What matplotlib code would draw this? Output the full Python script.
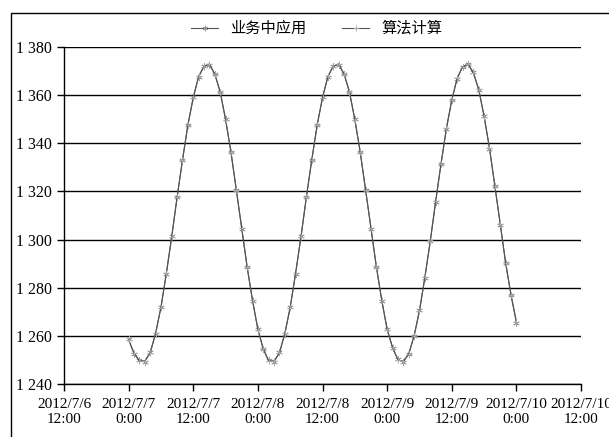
import matplotlib
matplotlib.use("Agg")
import matplotlib.pyplot as plt
import matplotlib.dates as mdates
from matplotlib.patches import Rectangle
import pandas as pd

plt.rcParams['font.family'] = ['Liberation Serif', 'Noto Sans CJK SC', 'DejaVu Sans']

# hourly water level, 2012-07-07 00:00 .. 2012-07-10 00:00
times = pd.date_range('2012-07-07 00:00', periods=73, freq='h')

applied = [1258.5, 1252.6, 1249.8, 1249.3, 1253.1, 1260.8, 1272.0, 1285.8, 1301.3, 1317.5,
           1333.2, 1347.4, 1359.2, 1367.6, 1372.2, 1372.7, 1368.9, 1361.2, 1350.0, 1336.2,
           1320.7, 1304.5, 1288.8, 1274.6, 1262.8, 1254.4, 1249.8, 1249.3, 1253.1, 1260.8,
           1272.0, 1285.8, 1301.3, 1317.5, 1333.2, 1347.4, 1359.2, 1367.6, 1372.2, 1372.7,
           1368.9, 1361.2, 1350.0, 1336.2, 1320.7, 1304.5, 1288.8, 1274.6, 1262.8, 1255.0,
           1250.2, 1249.2, 1252.6, 1259.8, 1270.6, 1284.1, 1299.4, 1315.6, 1331.6, 1346.0,
           1358.1, 1366.9, 1371.9, 1372.8, 1369.5, 1362.2, 1351.4, 1337.8, 1322.4, 1306.2,
           1290.4, 1276.8, 1265.5]

computed = [1258.2, 1252.9, 1249.5, 1249.6, 1252.8, 1261.1, 1271.7, 1286.1, 1301.0, 1317.8,
            1332.9, 1347.7, 1358.9, 1367.9, 1371.9, 1373.0, 1368.6, 1361.5, 1349.7, 1336.5,
            1320.4, 1304.8, 1288.5, 1274.9, 1262.5, 1254.7, 1249.5, 1249.6, 1252.8, 1261.1,
            1271.7, 1286.1, 1301.0, 1317.8, 1332.9, 1347.7, 1358.9, 1367.9, 1371.9, 1373.0,
            1368.6, 1361.5, 1349.7, 1336.5, 1320.4, 1304.8, 1288.5, 1274.9, 1262.5, 1255.3,
            1249.9, 1249.5, 1252.3, 1260.1, 1270.3, 1284.4, 1299.1, 1315.9, 1331.3, 1346.3,
            1357.8, 1367.2, 1371.6, 1373.1, 1369.2, 1362.5, 1351.1, 1338.1, 1322.1, 1306.5,
            1290.1, 1277.1, 1265.8]

labels = ['业务中应用', '算法计算']

fig = plt.figure(figsize=(6.09, 4.37), dpi=100)
ax = fig.add_axes([0.1051, 0.1213, 0.849, 0.7711])

# outer frame around the whole figure
fig.patches.append(Rectangle((11 / 609, -0.1), 1.2, 1 - 13 / 437 + 0.1,
                             transform=fig.transFigure, fill=False,
                             edgecolor='black', linewidth=1.0))

ax.plot(times, applied, color='#555555', lw=0.8, marker=(6, 2, 0), ms=4.5,
        mec='#999999', mew=0.6, label=labels[0])
ax.plot(times, computed, color='#555555', lw=0.8, marker='+', ms=4.5,
        mec='#aaaaaa', mew=0.6, label=labels[1])

ax.set_xlim(pd.Timestamp('2012-07-06 12:00'), pd.Timestamp('2012-07-10 12:00'))
ax.set_ylim(1240, 1380)
ax.set_yticks(range(1240, 1381, 20))
ax.yaxis.set_major_formatter(plt.FuncFormatter(lambda v, p: f"{int(v):,}".replace(',', ' ')))

ax.xaxis.set_major_locator(mdates.HourLocator(byhour=[0, 12]))
ax.xaxis.set_major_formatter(plt.FuncFormatter(
    lambda v, p: (lambda d: f"{d.year}/{d.month}/{d.day}\n{d.hour}:{d.minute:02d}")(mdates.num2date(v))))

ax.grid(axis='y', color='black', lw=1.0)
ax.set_axisbelow(True)
for s in ['top', 'right']:
    ax.spines[s].set_visible(False)
for s in ['left', 'bottom']:
    ax.spines[s].set_linewidth(1.0)
ax.tick_params(axis='both', direction='out', length=5, width=1.0, colors='black')
ax.tick_params(axis='y', labelsize=11.5)
ax.tick_params(axis='x', labelsize=11, pad=5)

for lab in ax.get_xticklabels():
    lab.set_horizontalalignment('center')

fig.legend(loc='center', bbox_to_anchor=(0.52, 0.935), ncol=2, frameon=False,
           prop={'family': ['Noto Sans CJK SC'], 'size': 11}, handlelength=1.8,
           handletextpad=0.8, columnspacing=2.3, markerscale=0.9)

fig.savefig('out.png', dpi=100)
